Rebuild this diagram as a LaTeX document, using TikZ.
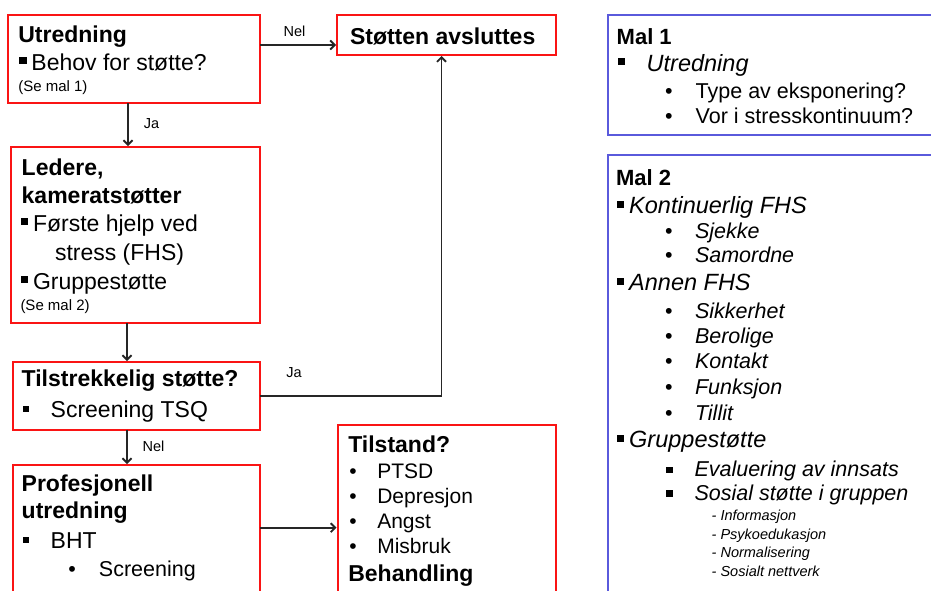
\documentclass[tikz,border=0pt]{standalone}
\usepackage{fontspec}
\setmainfont{Liberation Sans}
\usetikzlibrary{arrows.meta}
\definecolor{boxred}{RGB}{250,20,20}
\definecolor{boxblue}{RGB}{90,90,220}
\newcommand\fs[1]{\fontsize{#1}{#1}\selectfont}
\newcommand\sqb[2]{\rule[#1pt]{#2pt}{#2pt}}
\begin{document}
\begin{tikzpicture}[x=1pt,y=-1pt,
 redbox/.style={draw=boxred, line width=2pt, anchor=north west, inner sep=0pt, outer sep=0pt},
 bluebox/.style={draw=boxblue, line width=2pt, anchor=north west, inner sep=0pt, outer sep=0pt},
 tl/.style={anchor=base west, inner sep=0pt, outer sep=0pt, text=black},
 arr/.style={draw=black!85, line width=1.8pt, shorten >=1pt, -{Straight Barb[length=4.5pt,width=9pt]}},
 lbl/.style={inner sep=0pt, text=black, font=\fs{14.5}},
]
\useasboundingbox (0,0) rectangle (931,590);
\clip (0,0) rectangle (931,590);

% boxes
\node[redbox, minimum width=252pt, minimum height=88pt] (b1) at (8,15) {};
\node[redbox, minimum width=219pt, minimum height=40pt] (b2) at (337,15) {};
\node[redbox, minimum width=249pt, minimum height=176pt] (b3) at (11,147) {};
\node[redbox, minimum width=247pt, minimum height=67.5pt] (b4) at (12.5,362) {};
\node[redbox, minimum width=247pt, minimum height=160pt] (b5) at (12.5,465) {};
\node[redbox, minimum width=218.5pt, minimum height=195pt] (b6) at (337.5,425) {};
\node[bluebox, minimum width=352.5pt, minimum height=120pt] (m1) at (607.5,15) {};
\node[bluebox, minimum width=352.5pt, minimum height=465pt] (m2) at (607.5,155) {};

% Utredning
\node[tl] (t1a) at (18.3,42.3) {\fs{23}\bfseries Utredning};
\node[tl] (t1b) at (19.5,70.7) {\fs{23}\sqb{7}{7}\hspace{5pt}Behov for støtte?};
\node[tl] (t1c) at (18.3,91.7) {\fs{15}(Se mal 1)};
% Stotten
\node[tl] (t2a) at (350,44) {\fs{23}\bfseries Støtten avsluttes};
% Ledere
\node[tl] (t3a) at (21.7,175.7) {\fs{23}\bfseries Ledere,};
\node[tl] (t3b) at (21.7,203.3) {\fs{23}\bfseries kameratstøtter};
\node[tl] (t3c) at (21,231.7) {\fs{23}\sqb{7}{7}\hspace{5pt}Første hjelp ved};
\node[tl] (t3d) at (55,260.7) {\fs{23}stress (FHS)};
\node[tl] (t3e) at (21,289.3) {\fs{23}\sqb{6.5}{7}\hspace{5pt}Gruppestøtte};
\node[tl] (t3f) at (20.5,310) {\fs{15}(Se mal 2)};
% Tilstrekkelig
\node[tl] (t4a) at (21.7,386.7) {\fs{23}\bfseries Tilstrekkelig støtte?};
\node[tl] (t4b) at (22.7,417.3) {\fs{23}\sqb{5.5}{6}\hspace{22pt}Screening TSQ};
% Profesjonell
\node[tl] (t5a) at (21.7,491.7) {\fs{23}\bfseries Profesjonell};
\node[tl] (t5b) at (21.7,518.3) {\fs{23}\bfseries utredning};
\node[tl] (t5c) at (22.7,548.3) {\fs{23}\sqb{5.5}{6}\hspace{22pt}BHT};
\node[tl] (t5d) at (68.3,576.7) {\fs{21.5}\makebox[30.7pt][l]{•}Screening};
% Tilstand
\node[tl] (t6a) at (348.3,452.7) {\fs{23}\bfseries Tilstand?};
\node[tl] (t6b) at (349.3,478.3) {\fs{21}\makebox[28pt][l]{•}PTSD};
\node[tl] (t6c) at (349.3,503.3) {\fs{21}\makebox[28pt][l]{•}Depresjon};
\node[tl] (t6d) at (349.3,528.3) {\fs{21}\makebox[28pt][l]{•}Angst};
\node[tl] (t6e) at (349.3,553.3) {\fs{21}\makebox[28pt][l]{•}Misbruk};
\node[tl] (t6f) at (348.3,581.7) {\fs{23}\bfseries Behandling};
% Mal 1
\node[tl] (u1) at (616.7,44) {\fs{22}\bfseries Mal 1};
\node[tl] (u2) at (618.3,71.7) {\fs{23.5}\sqb{6.5}{7}\hspace{21.4pt}\itshape Utredning};
\node[tl] (u3) at (665,98.3) {\fs{21.5}\makebox[30.7pt][l]{•}Type av eksponering?};
\node[tl] (u4) at (665,123.3) {\fs{21.5}\makebox[30.7pt][l]{•}Vor i stresskontinuum?};
% Mal 2
\node[tl] (v1) at (616,185) {\fs{22}\bfseries Mal 2};
\node[tl] (v2) at (616.7,213.3) {\fs{23.5}\sqb{5.5}{7}\hspace{5.5pt}\itshape Kontinuerlig FHS};
\node[tl] (v3) at (665,238.3) {\fs{21.5}\makebox[30pt][l]{•}\itshape Sjekke};
\node[tl] (v4) at (665,262.7) {\fs{21.5}\makebox[30pt][l]{•}\itshape Samordne};
\node[tl] (v5) at (616.7,290) {\fs{23.5}\sqb{5.5}{7}\hspace{5.5pt}\itshape Annen FHS};
\node[tl] (v6) at (665,318.3) {\fs{21.5}\makebox[30pt][l]{•}\itshape Sikkerhet};
\node[tl] (v7) at (665,343.3) {\fs{21.5}\makebox[30pt][l]{•}\itshape Berolige};
\node[tl] (v8) at (665,368.3) {\fs{21.5}\makebox[30pt][l]{•}\itshape Kontakt};
\node[tl] (v9) at (665,394) {\fs{21.5}\makebox[30pt][l]{•}\itshape Funksjon};
\node[tl] (v10) at (665,420) {\fs{21.5}\makebox[30pt][l]{•}\itshape Tillit};
\node[tl] (v11) at (616.7,447.3) {\fs{23.5}\sqb{5.5}{7}\hspace{5.5pt}\itshape Gruppestøtte};
\node[tl] (v12) at (666,476.7) {\fs{21.5}\sqb{3.4}{6.5}\hspace{22pt}\itshape Evaluering av innsats};
\node[tl] (v13) at (666,500) {\fs{21.5}\sqb{3.4}{6.5}\hspace{22pt}\itshape Sosial støtte i gruppen};
\node[tl] (v14) at (711.7,520.7) {\fs{14.5}\itshape - Informasjon};
\node[tl] (v15) at (711.7,539.3) {\fs{14.5}\itshape - Psykoedukasjon};
\node[tl] (v16) at (711.7,557.3) {\fs{14.5}\itshape - Normalisering};
\node[tl] (v17) at (711.7,576) {\fs{14.5}\itshape - Sosialt nettverk};

% connectors
\draw[arr] ([yshift=14pt]b1.east) -- node[lbl, anchor=base, yshift=9pt, xshift=-4pt] (l1) {Nel} ([yshift=14pt]b1.east -| b2.west);
\draw[arr] ([xshift=-6pt]b1.south) -- node[lbl, anchor=base west, xshift=15pt, yshift=-3pt] (l2) {Ja} ([xshift=-6pt]b1.south |- b3.north);
\draw[arr] ([xshift=-8.5pt]b3.south) -- ([xshift=-8.5pt]b3.south |- b4.north);
\draw[arr] (b4.east) -| node[lbl, pos=0.095, anchor=base, yshift=18pt] (l3) {Ja} ([xshift=-5pt]b2.south);
\draw[arr] ([xshift=-9pt]b4.south) -- node[lbl, anchor=base west, xshift=14.7pt, yshift=-4.7pt] (l4) {Nel} ([xshift=-9pt]b4.south |- b5.north);
\draw[arr] ([yshift=17.3pt]b5.east) -- ([yshift=17.3pt]b5.east -| b6.west);
\end{tikzpicture}
\end{document}
